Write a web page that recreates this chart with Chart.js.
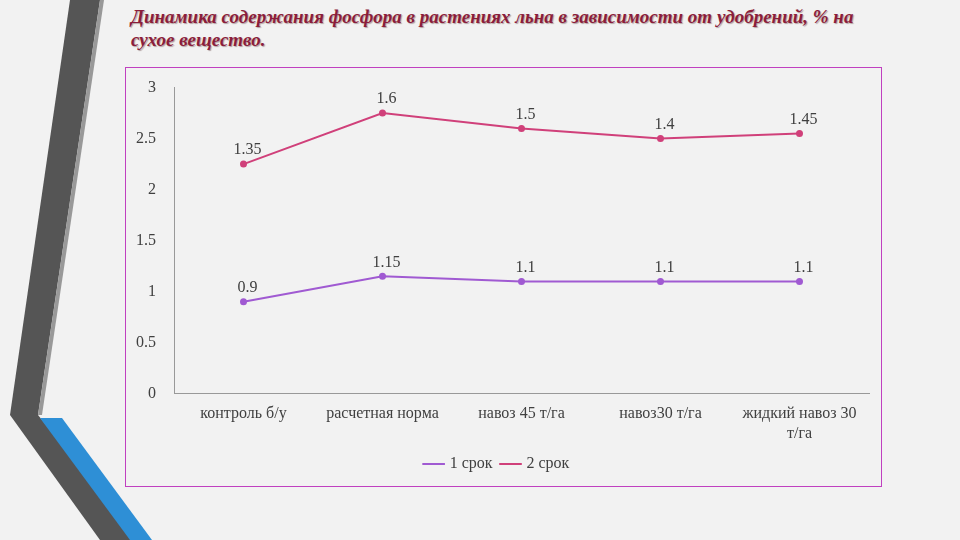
<!DOCTYPE html>
<html><head><meta charset="utf-8">
<script src="https://cdn.jsdelivr.net/npm/chart.js@4"></script>
<style>
body{margin:0;width:960px;height:540px;background:#f2f2f2;position:relative;overflow:hidden;font-family:"Liberation Serif",serif}
#title{position:absolute;left:131px;top:5px;width:760px;font-size:19px;font-weight:bold;font-style:italic;color:#8b1d3b;text-shadow:1px 1px 1px #b0a0a0;line-height:23px}
#box{position:absolute;left:125px;top:67px;width:755px;height:418px;border:1px solid #c040c0;background:#f2f2f2}
svg{position:absolute;left:0;top:0}
</style></head><body>
<svg width="960" height="540">
<polygon points="70,0 100,0 38,415 10,415" fill="#555"/>
<polygon points="10,415 38,415 140,540 100,540" fill="#555"/>
<polygon points="100,0 104,0 42,415 38,415" fill="#999"/>
<polygon points="40,418 62,418 152,540 130,540" fill="#2e8fd6"/>
</svg>
<div id="title">Динамика содержания фосфора в растениях льна в зависимости от удобрений, % на сухое вещество.</div>
<div id="box"><canvas id="c" width="755" height="418"></canvas></div>
<script>
const categories=["контроль б/у","расчетная норма","навоз 45 т/га","навоз30 т/га",["жидкий навоз 30","т/га"]];
const series1=[0.9,1.15,1.1,1.1,1.1];
const series2=[1.35,1.6,1.5,1.4,1.45];
const yTicks=[0,0.5,1,1.5,2,2.5,3];
const labelsPlugin={id:'lbl',afterDatasetsDraw(ch){const c=ch.ctx;c.save();c.font='16px "Liberation Serif"';c.fillStyle='#404040';c.textAlign='center';c.textBaseline='bottom';
ch.data.datasets.forEach((d,i)=>{ch.getDatasetMeta(i).data.forEach((p,j)=>{c.fillText(String(d.data[j]),p.x+4,p.y-6);});});c.restore();}};
new Chart(document.getElementById('c'),{type:'line',
data:{labels:categories,datasets:[
{label:'1 срок',data:series1,borderColor:'#a05ad2',backgroundColor:'#a05ad2',borderWidth:2,pointRadius:2.5,fill:false},
{label:'2 срок',data:series2,borderColor:'#d0407a',backgroundColor:'#d0407a',borderWidth:2,pointRadius:2.5,fill:false}]},
options:{responsive:false,animation:false,layout:{padding:{left:0,right:12,top:0,bottom:4}},
plugins:{legend:{position:'bottom',labels:{usePointStyle:true,pointStyle:'line',color:'#404040',font:{family:'Liberation Serif',size:16},boxWidth:25}},tooltip:{enabled:false}},
scales:{x:{offset:true,grid:{display:false},border:{color:'#999'},ticks:{color:'#404040',font:{family:'Liberation Serif',size:16},maxRotation:0}},
y:{stacked:true,min:0,max:3,afterBuildTicks(a){a.ticks=yTicks.map(v=>({value:v}));},grid:{display:false},border:{color:'#999'},ticks:{color:'#404040',padding:10,callback:v=>String(v),font:{family:'Liberation Serif',size:16}}}}},
plugins:[labelsPlugin]});
</script></body></html>
